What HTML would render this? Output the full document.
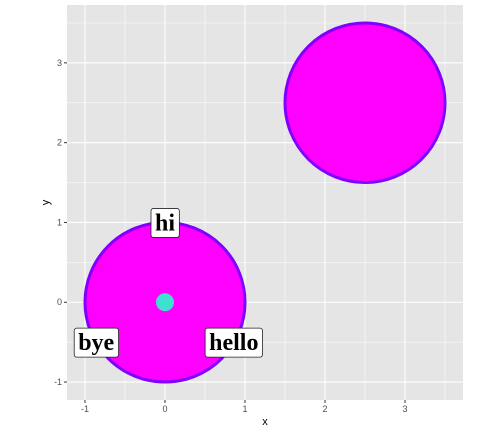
<!DOCTYPE html>
<html><head><meta charset="utf-8"><style>
body{margin:0;background:#fff}
svg text{font-family:"Liberation Sans",sans-serif}
</style></head><body>
<svg id="c" width="504" height="432" xmlns="http://www.w3.org/2000/svg"></svg>
<script>
const xTicks=[-1,0,1,2,3];
const yTicks=[-1,0,1,2,3];
const circleX=[0,2.5];
const circleY=[0,2.5];
const circleR=[1,1];
const pointX=[0];
const pointY=[0];
const labelText=["hi","bye","hello"];
const labelX=[0,-0.86,0.86];
const labelY=[1,-0.5,-0.5];

const L=67,R=463,T=5,B=400;
const x0=-1.225,x1=3.725,y0=-1.225,y1=3.725;
const sx=v=>L+(v-x0)/(x1-x0)*(R-L);
const sy=v=>B-(v-y0)/(y1-y0)*(B-T);
const ns="http://www.w3.org/2000/svg";
const svg=document.getElementById('c');
function mk(t,a,p){const e=document.createElementNS(ns,t);for(const k in a)e.setAttribute(k,a[k]);(p||svg).appendChild(e);return e;}
const panel=mk('rect',{x:L,y:T,width:R-L,height:B-T,fill:'#e5e5e5'});


for(let v=-1;v<=3.5;v+=0.5){
  const major=Number.isInteger(v);
  const gx=mk('line',{x1:sx(v),x2:sx(v),y1:T,y2:B,stroke:'#fff','stroke-width':major?1.1:0.5});
  
  
  const gy=mk('line',{x1:L,x2:R,y1:sy(v),y2:sy(v),stroke:'#fff','stroke-width':major?1.1:0.5});
  
  
}
xTicks.forEach(v=>{
  mk('line',{x1:sx(v),x2:sx(v),y1:B,y2:B+3,stroke:'#333'});
  const t=mk('text',{x:sx(v),y:B+12,'text-anchor':'middle','font-size':9,fill:'#4d4d4d'});
  t.textContent=v;
  
  
});
yTicks.forEach(v=>{
  mk('line',{x1:L-3,x2:L,y1:sy(v),y2:sy(v),stroke:'#333'});
  const t=mk('text',{x:L-5,y:sy(v)+3,'text-anchor':'end','font-size':9,fill:'#4d4d4d'});
  t.textContent=v;
  
  
});
circleX.forEach((cx,i)=>{
  const c=mk('ellipse',{cx:sx(cx),cy:sy(circleY[i]),rx:sx(circleR[i])-sx(0),ry:sy(0)-sy(circleR[i]),fill:'#ff00ff',stroke:'#8000ff','stroke-width':3});
  
  
});
pointX.forEach((px,i)=>{
  const p=mk('circle',{cx:sx(px),cy:sy(pointY[i]),r:9,fill:'#40e0d0'});
  
  
});
labelText.forEach((s,i)=>{
  const g=mk('g',{});
  
  
  const t=mk('text',{x:sx(labelX[i]),y:sy(labelY[i])+8,'text-anchor':'middle','font-size':24,'font-weight':'bold',fill:'#000'},g);
  t.style.fontFamily='"Liberation Serif",serif';
  t.textContent=s;
  const bb=t.getBBox();
  const r=mk('rect',{x:bb.x-4,y:sy(labelY[i])-14,width:bb.width+8,height:29,rx:2.5,fill:'#fff',stroke:'#222','stroke-width':0.8});
  g.insertBefore(r,t);
});
const xt=mk('text',{x:(L+R)/2,y:425,'text-anchor':'middle','font-size':11,fill:'#000'});
xt.textContent='x';


const yt=mk('text',{x:0,y:0,'text-anchor':'middle','font-size':11,fill:'#000',transform:`translate(49,${(T+B)/2}) rotate(-90)`});
yt.textContent='y';


</script>
</body></html>
